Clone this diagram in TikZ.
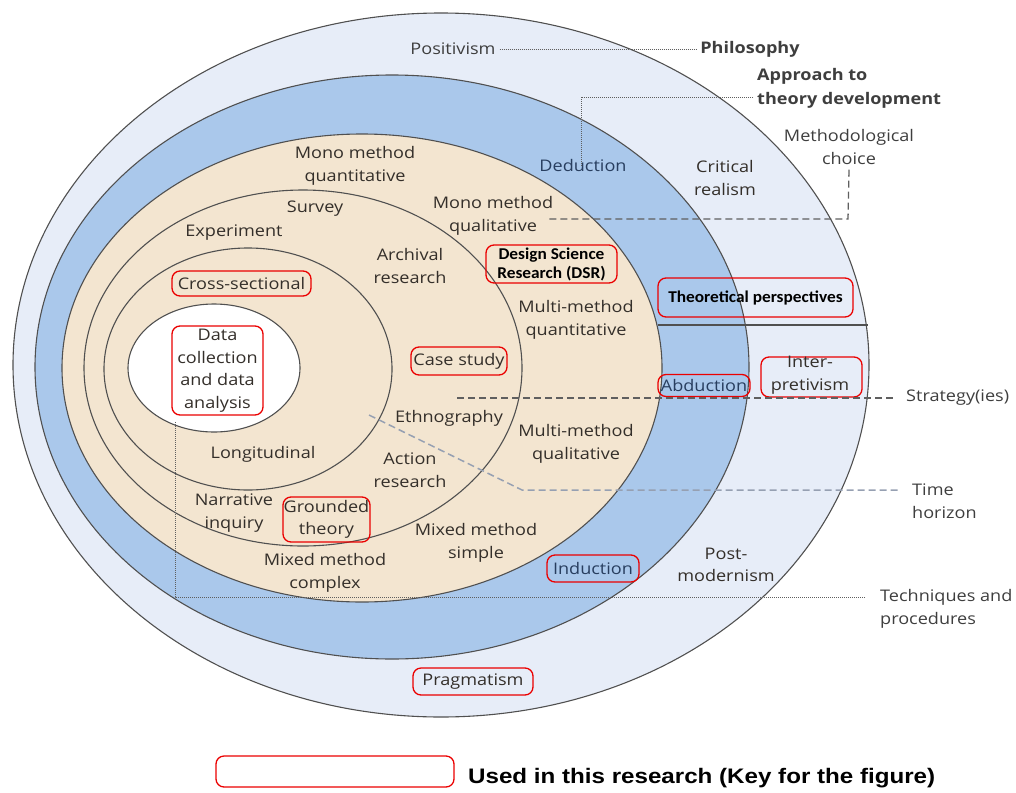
\documentclass[tikz,border=0pt]{standalone}
\usepackage{fontspec}
\setmainfont{Open Sans}[FakeStretch=1.13]
\newfontfamily\annotfont{Carlito}[FakeStretch=1.05]
\newfontfamily\keyfont{Liberation Sans}[FakeStretch=1.15]
\definecolor{outerfill}{RGB}{231,237,248}
\definecolor{bandfill}{RGB}{170,200,235}
\definecolor{beigefill}{RGB}{243,229,208}
\definecolor{ringgray}{RGB}{80,80,80}
\definecolor{labeltext}{RGB}{52,47,42}
\definecolor{approachtext}{RGB}{40,62,95}
\definecolor{sidetext}{RGB}{62,62,62}
\definecolor{leadgray}{RGB}{95,95,95}
\definecolor{timeblue}{RGB}{150,160,178}
\definecolor{hlred}{RGB}{235,0,0}
\begin{document}
\begin{tikzpicture}[x=1pt,y=-1pt,
  ring/.style={draw=ringgray, line width=1.1pt},
  lbl/.style={font=\fontsize{16}{22.5}\selectfont, text=labeltext, align=center, inner sep=0pt},
  approach/.style={lbl, text=approachtext},
  sidelbl/.style={lbl, text=sidetext, align=left, anchor=west},
  headlbl/.style={lbl, text=sidetext, font=\bfseries\fontsize{16}{24}\selectfont},
  hl/.style={draw=hlred, rounded corners=8pt, line width=1.3pt, inner sep=0pt},
  annot/.style={font=\annotfont\bfseries\fontsize{16.5}{19}\selectfont, text=black, align=center},
  dotline/.style={draw=leadgray, line width=0.9pt, dash pattern=on 1pt off 1pt},
  dashline/.style={draw=leadgray, line width=1.3pt, dash pattern=on 7pt off 4pt},
  timeline/.style={draw=timeblue, line width=1.5pt, dash pattern=on 7pt off 4pt},
]
\useasboundingbox (0,0) rectangle (1016,792);

% --- the research onion, outer layer first ---
\filldraw[fill=outerfill, ring] (441,365) ellipse [x radius=428, y radius=352];
\filldraw[fill=bandfill, ring] (392,367) ellipse [x radius=357, y radius=292];
\filldraw[fill=beigefill, ring] (362,368) ellipse [x radius=300, y radius=234];
\draw[ring] (303,368) ellipse [x radius=219, y radius=178];
\draw[ring] (248,369) ellipse [x radius=144, y radius=121];
\filldraw[fill=white, ring] (214,368) ellipse [x radius=86, y radius=64];

% separator under the theoretical perspectives band
\coordinate (tpL) at (658,325);
\coordinate (tpR) at (868,325);
\draw[ringgray, line width=1.3pt] (tpL) -- (tpR);

% --- layer headings on the right ---
\node[lbl, text=sidetext] (positivism) at (453,49) {Positivism};
\node[headlbl] (philosophy) at (750,49) {Philosophy};
\node[headlbl, anchor=west, align=left] (approach) at (757,88) {Approach to\\theory development};
\node[lbl, text=sidetext] (methchoice) at (849,147) {Methodological\\choice};
\node[sidelbl] (strategy) at (906,398) {Strategy(ies)};
\node[sidelbl] (timehor) at (912,501) {Time\\horizon};
\node[sidelbl] (techniques) at (880,609) {Techniques and\\procedures};

% --- philosophies ---
\node[lbl] (critical) at (725,178) {Critical\\realism};
\node[lbl, hl, minimum width=101, minimum height=40, text depth=0pt] (interpret) at (811.5,377) {};
\node[lbl] (interpretxt) at (810,375) {Inter-\\pretivism};
\node[lbl] (postmod) at (726,565) {Post-\\modernism};
\node[lbl, hl, minimum width=120, minimum height=27] (pragmatism) at (473,681.5) {Pragmatism};

% --- approaches to theory development ---
\node[approach] (deduction) at (583,165) {Deduction};
\node[approach, hl, minimum width=92, minimum height=22] (abduction) at (704,385.5) {Abduction};
\node[approach, hl, minimum width=92, minimum height=27] (induction) at (593,568.5) {Induction};

% --- methodological choice ---
\node[lbl] (monoquant) at (355,166) {Mono method\\quantitative};
\node[lbl] (monoqual) at (493,216) {Mono method\\qualitative};
\node[lbl] (multiquant) at (576,320) {Multi-method\\quantitative};
\node[lbl] (multiqual) at (576,444) {Multi-method\\qualitative};
\node[lbl] (mixsimple) at (476,543) {Mixed method\\simple};
\node[lbl] (mixcomplex) at (325,573) {Mixed method\\complex};

% --- strategies ---
\node[lbl] (survey) at (315,209) {Survey};
\node[lbl] (experiment) at (234,233) {Experiment};
\node[lbl] (archival) at (410,266) {Archival\\research};
\node[lbl, hl, minimum width=96, minimum height=28] (casestudy) at (459,361) {Case study};
\node[lbl] (ethno) at (449,418) {Ethnography};
\node[lbl] (action) at (410,470) {Action\\research};
\node[lbl] (narrative) at (234,513) {Narrative\\inquiry};
\node[lbl, hl, minimum width=87, minimum height=45] (grounded) at (326.5,519.5) {Grounded\\theory};

% --- time horizons ---
\node[lbl, hl, minimum width=139, minimum height=25] (crosssec) at (241.5,283.5) {Cross-sectional};
\node[lbl] (longit) at (263,454) {Longitudinal};

% --- techniques and procedures ---
\node[lbl, hl, minimum width=91, minimum height=89] (datacoll) at (217.5,370.5) {Data\\collection\\and data\\analysis};

% --- added annotations ---
\node[annot, hl, minimum width=131, minimum height=38] (dsr) at (551.5,264) {Design Science\\Research (DSR)};
\node[annot, hl, minimum width=195, minimum height=39] (theoper) at (755.5,297.5) {Theoretical perspectives};

% --- leader lines ---
\draw[dotline] (positivism.east) ++(4,0) -- ([xshift=-4pt]philosophy.west);
\coordinate (apCorner) at (581,97);
\draw[dotline] ([xshift=-4pt,yshift=-9pt]approach.west) -- (apCorner) -- ([yshift=-8pt]deduction.north -| apCorner);
\coordinate (mcCorner) at (848,219);
\coordinate (mcEnd) at (548,219);
\draw[dashline] ([yshift=-5pt]methchoice.south) -- (mcCorner) -- (mcEnd);
\coordinate (stStart) at (457,398);
\draw[dashline] (stStart) -- ([xshift=-10pt]strategy.west);
\coordinate (thA) at (369,415);
\coordinate (thB) at (522,490);
\coordinate (thEnd) at (900,490);
\draw[timeline] (thA) -- (thB) -- (thEnd);
\coordinate (tqTop) at (175,422);
\coordinate (tqCorner) at (175,597);
\coordinate (tqEnd) at (866,597);
\draw[dotline] (tqTop) -- (tqCorner) -- (tqEnd);

% --- key ---
\node[hl, minimum width=238, minimum height=31] (keybox) at (335,771.5) {};
\node[font=\keyfont\bfseries\fontsize{21}{24}\selectfont, anchor=west, inner sep=0pt] (keytext) at (468,778) {Used in this research (Key for the figure)};
\end{tikzpicture}
\end{document}
